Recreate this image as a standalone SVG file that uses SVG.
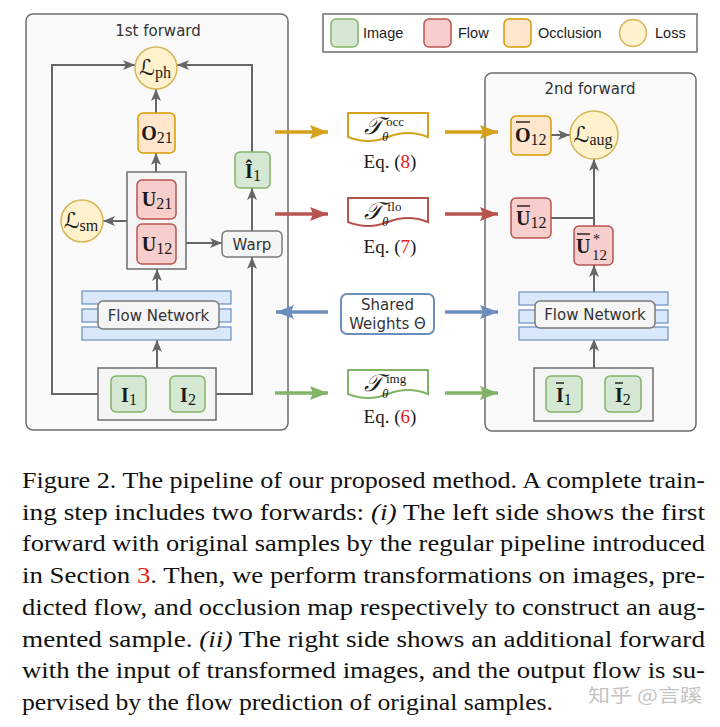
<svg xmlns="http://www.w3.org/2000/svg" width="720" height="727" viewBox="0 0 720 727">
<style>
.panel{fill:#fafafa;stroke:#6e6e6e;stroke-width:1.5}
.grp{fill:#f5f5f5;stroke:#6e6e6e;stroke-width:1.5}
.img{fill:#d5e8d4;stroke:#82b366;stroke-width:1.5}
.flo{fill:#f8cecc;stroke:#b85450;stroke-width:1.5}
.occ{fill:#ffe6cc;stroke:#d79b00;stroke-width:1.5}
.loss{fill:#fff2cc;stroke:#d6b656;stroke-width:1.5}
.bar{fill:#dae8fc;stroke:#6c8ebf;stroke-width:1.2}
.lbl{fill:#f5f5f5;stroke:#7a7a7a;stroke-width:1.5}
.sans{font-family:"DejaVu Sans",Verdana,sans-serif;font-size:15px;fill:#333}
.leg{font-family:"Liberation Sans",Arial,sans-serif;font-size:14.5px;fill:#222}
.m{font-family:"Liberation Serif","Times New Roman",serif;fill:#1a1a1a}
.mb{font-family:"Liberation Serif","Times New Roman",serif;font-weight:bold;font-size:20px;fill:#1a1a1a}
.sub{font-weight:normal;font-size:16px}
.cal{font-family:"DejaVu Serif","DejaVu Sans",serif;font-size:22px;fill:#1a1a1a}
.cap{font-family:"Liberation Serif","Times New Roman",serif;font-size:24px;fill:#111}
.red{fill:#e0201b}
.c{fill:none;stroke:#666;stroke-width:2}
.ov{stroke:#1a1a1a;stroke-width:1.4}
</style>
<defs>
<marker id="ag" viewBox="0 0 12 12" refX="12" refY="6" markerWidth="12" markerHeight="12" orient="auto" markerUnits="userSpaceOnUse"><path d="M0,1 L12,6 L0,11 L3,6 Z" fill="#666"/></marker>
<marker id="ay" viewBox="0 0 18 14" refX="18" refY="7" markerWidth="18" markerHeight="14" orient="auto" markerUnits="userSpaceOnUse"><path d="M0,0 L18,7 L0,14 L3,7 Z" fill="#d6a21e"/></marker>
<marker id="ar" viewBox="0 0 18 14" refX="18" refY="7" markerWidth="18" markerHeight="14" orient="auto" markerUnits="userSpaceOnUse"><path d="M0,0 L18,7 L0,14 L3,7 Z" fill="#b85450"/></marker>
<marker id="ab" viewBox="0 0 18 14" refX="18" refY="7" markerWidth="18" markerHeight="14" orient="auto" markerUnits="userSpaceOnUse"><path d="M0,0 L18,7 L0,14 L3,7 Z" fill="#6c8ebf"/></marker>
<marker id="agr" viewBox="0 0 18 14" refX="18" refY="7" markerWidth="18" markerHeight="14" orient="auto" markerUnits="userSpaceOnUse"><path d="M0,0 L18,7 L0,14 L3,7 Z" fill="#82b366"/></marker>
</defs>
<rect width="720" height="727" fill="#fff"/>

<!-- panels -->
<g id="panel-1st">
<rect class="panel" x="26" y="14" width="262" height="416" rx="7"/>
<text class="sans" x="158" y="36" text-anchor="middle" fill="#222">1st forward</text>
</g>
<g id="panel-2nd">
<rect class="panel" x="485" y="73" width="211" height="358" rx="7"/>
<text class="sans" x="590" y="94" text-anchor="middle" fill="#222">2nd forward</text>
</g>

<!-- legend -->
<g id="legend">
<rect x="323" y="14" width="374" height="38" fill="#fff" stroke="#6e6e6e" stroke-width="1.5"/>
<rect class="img" x="331" y="19" width="27" height="28" rx="5"/>
<text class="leg" x="363" y="38">Image</text>
<rect class="flo" x="424" y="19" width="27" height="28" rx="5"/>
<text class="leg" x="458" y="38">Flow</text>
<rect class="occ" x="504" y="19" width="27" height="28" rx="5"/>
<text class="leg" x="538" y="38">Occlusion</text>
<circle class="loss" cx="633" cy="33" r="13.5"/>
<text class="leg" x="655" y="38">Loss</text>
</g>

<!-- connectors -->
<g id="connectors">
<path class="c" d="M111,394 H52 V65 H135" marker-end="url(#ag)"/>
<path class="c" d="M252,152 V65 H177" marker-end="url(#ag)"/>
<path class="c" d="M156,113 V89" marker-end="url(#ag)"/>
<path class="c" d="M156,172 V153" marker-end="url(#ag)"/>
<path class="c" d="M127,221 H103" marker-end="url(#ag)"/>
<path class="c" d="M176,243 H222" marker-end="url(#ag)"/>
<path class="c" d="M252,231 V188" marker-end="url(#ag)"/>
<path class="c" d="M205,394 H252 V257" marker-end="url(#ag)"/>
<path class="c" d="M157,291 V269" marker-end="url(#ag)"/>
<path class="c" d="M157,368 V340" marker-end="url(#ag)"/>
<path class="c" d="M551,135 H570" marker-end="url(#ag)"/>
<path class="c" d="M551,218 H594"/>
<path class="c" d="M594,226 V159" marker-end="url(#ag)"/>
<path class="c" d="M594,292 V265" marker-end="url(#ag)"/>
<path class="c" d="M594,368 V339" marker-end="url(#ag)"/>
<path d="M275,132 H328" stroke="#d6a21e" stroke-width="3.5" fill="none" marker-end="url(#ay)"/>
<path d="M445,132 H498" stroke="#d6a21e" stroke-width="3.5" fill="none" marker-end="url(#ay)"/>
<path d="M275,214 H328" stroke="#b85450" stroke-width="3.5" fill="none" marker-end="url(#ar)"/>
<path d="M445,214 H498" stroke="#b85450" stroke-width="3.5" fill="none" marker-end="url(#ar)"/>
<path d="M328,312 H276" stroke="#6c8ebf" stroke-width="3.5" fill="none" marker-end="url(#ab)"/>
<path d="M445,312 H498" stroke="#6c8ebf" stroke-width="3.5" fill="none" marker-end="url(#ab)"/>
<path d="M275,393 H328" stroke="#82b366" stroke-width="3.5" fill="none" marker-end="url(#agr)"/>
<path d="M445,393 H498" stroke="#82b366" stroke-width="3.5" fill="none" marker-end="url(#agr)"/>
</g>

<!-- 1st forward nodes -->
<g id="L-ph">
<circle class="loss" cx="156" cy="68" r="21"/>
<text x="155" y="75" text-anchor="middle"><tspan class="cal">ℒ</tspan><tspan class="m" font-size="16" dy="3">ph</tspan></text>
</g>
<g id="O21">
<rect class="occ" x="138" y="113" width="37" height="40" rx="5"/>
<text class="mb" x="157" y="140" text-anchor="middle">O<tspan class="sub" dy="3">21</tspan></text>
</g>
<g id="U-group">
<rect class="grp" x="127" y="172" width="59" height="97"/>
</g>
<g id="U21">
<rect class="flo" x="137" y="180" width="39" height="39" rx="5"/>
<text class="mb" x="157" y="206" text-anchor="middle">U<tspan class="sub" dy="3">21</tspan></text>
</g>
<g id="U12">
<rect class="flo" x="137" y="224" width="39" height="40" rx="5"/>
<text class="mb" x="157" y="251" text-anchor="middle">U<tspan class="sub" dy="3">12</tspan></text>
</g>
<g id="L-sm">
<circle class="loss" cx="82" cy="221" r="21"/>
<text x="81" y="228" text-anchor="middle"><tspan class="cal">ℒ</tspan><tspan class="m" font-size="16" dy="3">sm</tspan></text>
</g>
<g id="warp">
<rect class="lbl" x="222" y="231" width="60" height="26" rx="5"/>
<text class="sans" x="252" y="249.5" text-anchor="middle">Warp</text>
</g>
<g id="I1-hat">
<rect class="img" x="235" y="152" width="35" height="36" rx="5"/>
<text class="mb" x="253" y="178" text-anchor="middle">Î<tspan class="sub" dy="3">1</tspan></text>
</g>
<g id="flow-net-1">
<rect class="bar" x="82" y="291" width="149" height="13"/>
<rect class="bar" x="82" y="309" width="149" height="13"/>
<rect class="bar" x="82" y="327" width="149" height="13"/>
<rect class="lbl" x="98" y="301" width="121" height="28" rx="5"/>
<text class="sans" x="158.5" y="320.5" text-anchor="middle">Flow Network</text>
</g>
<g id="I-group-1">
<rect class="grp" x="98" y="368" width="118" height="52"/>
</g>
<g id="I1">
<rect class="img" x="111" y="376" width="35" height="36" rx="5"/>
<text class="mb" x="129" y="402" text-anchor="middle">I<tspan class="sub" dy="3">1</tspan></text>
</g>
<g id="I2">
<rect class="img" x="170" y="376" width="35" height="36" rx="5"/>
<text class="mb" x="188" y="402" text-anchor="middle">I<tspan class="sub" dy="3">2</tspan></text>
</g>

<!-- middle transforms -->
<g id="T-occ">
<path d="M348,113 H428 V137 Q408,129 388,137 Q368,145 348,137 Z" fill="#fff" stroke="#d6a21e" stroke-width="2"/>
<text class="m" x="364" y="134" font-size="24" font-style="italic">𝒯</text>
<text class="m" x="382" y="141" font-size="13" font-style="italic">θ</text>
<text class="m" x="386" y="126" font-size="13">occ</text>
<text class="m" x="390" y="168" font-size="19" text-anchor="middle">Eq. (<tspan class="red">8</tspan>)</text>
</g>
<g id="T-flo">
<path d="M348,198 H428 V222 Q408,214 388,222 Q368,230 348,222 Z" fill="#fff" stroke="#b85450" stroke-width="2"/>
<text class="m" x="364" y="219" font-size="24" font-style="italic">𝒯</text>
<text class="m" x="382" y="226" font-size="13" font-style="italic">θ</text>
<text class="m" x="387" y="211" font-size="13">flo</text>
<text class="m" x="390" y="253" font-size="19" text-anchor="middle">Eq. (<tspan class="red">7</tspan>)</text>
</g>
<g id="shared-weights">
<rect x="341" y="294" width="93" height="40" rx="6" fill="#fff" stroke="#6c8ebf" stroke-width="2"/>
<text class="sans" x="387.5" y="310" text-anchor="middle">Shared</text>
<text class="sans" x="387.5" y="329" text-anchor="middle">Weights Θ</text>
</g>
<g id="T-img">
<path d="M348,370 H428 V394 Q408,386 388,394 Q368,402 348,394 Z" fill="#fff" stroke="#82b366" stroke-width="2"/>
<text class="m" x="364" y="391" font-size="24" font-style="italic">𝒯</text>
<text class="m" x="382" y="398" font-size="13" font-style="italic">θ</text>
<text class="m" x="386" y="383" font-size="13">img</text>
<text class="m" x="390" y="423" font-size="19" text-anchor="middle">Eq. (<tspan class="red">6</tspan>)</text>
</g>

<!-- 2nd forward nodes -->
<g id="O12-bar">
<rect class="occ" x="511" y="116" width="40" height="39" rx="5"/>
<text class="mb" x="515" y="142">O<tspan class="sub" dy="3">12</tspan></text>
<line class="ov" x1="516" y1="122" x2="530" y2="122"/>
</g>
<g id="L-aug">
<circle class="loss" cx="594" cy="135" r="24"/>
<text x="593" y="142" text-anchor="middle"><tspan class="cal">ℒ</tspan><tspan class="m" font-size="16" dy="3">aug</tspan></text>
</g>
<g id="U12-bar">
<rect class="flo" x="511" y="198" width="40" height="40" rx="5"/>
<text class="mb" x="516" y="225">U<tspan class="sub" dy="3">12</tspan></text>
<line class="ov" x1="517" y1="206" x2="530" y2="206"/>
</g>
<g id="U12-star">
<rect class="flo" x="574" y="226" width="39" height="39" rx="5"/>
<text class="mb" x="576" y="253">U</text>
<line class="ov" x1="577" y1="234" x2="590" y2="234"/>
<text class="m" x="593" y="244" font-size="14">*</text>
<text class="m" x="592" y="260" font-size="15">12</text>
</g>
<g id="flow-net-2">
<rect class="bar" x="519" y="292" width="149" height="13"/>
<rect class="bar" x="519" y="310" width="149" height="13"/>
<rect class="bar" x="519" y="327" width="149" height="13"/>
<rect class="lbl" x="535" y="301" width="120" height="27" rx="5"/>
<text class="sans" x="595" y="320" text-anchor="middle">Flow Network</text>
</g>
<g id="I-group-2">
<rect class="grp" x="534" y="368" width="119" height="53"/>
</g>
<g id="I1-bar">
<rect class="img" x="546" y="376" width="36" height="36" rx="5"/>
<text class="mb" x="556" y="402">I<tspan class="sub" dy="3">1</tspan></text>
<line class="ov" x1="556" y1="383" x2="564" y2="383"/>
</g>
<g id="I2-bar">
<rect class="img" x="605" y="376" width="36" height="36" rx="5"/>
<text class="mb" x="615" y="402">I<tspan class="sub" dy="3">2</tspan></text>
<line class="ov" x1="615" y1="383" x2="623" y2="383"/>
</g>

<!-- caption -->
<g id="caption">
<text class="cap" x="22" y="488" textLength="683" lengthAdjust="spacingAndGlyphs">Figure 2. The pipeline of our proposed method. A complete train-</text>
<text class="cap" x="22" y="520" textLength="683" lengthAdjust="spacingAndGlyphs">ing step includes two forwards: <tspan font-style="italic">(i)</tspan> The left side shows the first</text>
<text class="cap" x="22" y="551" textLength="683" lengthAdjust="spacingAndGlyphs">forward with original samples by the regular pipeline introduced</text>
<text class="cap" x="22" y="583" textLength="683" lengthAdjust="spacingAndGlyphs">in Section <tspan class="red">3</tspan>.  Then, we perform transformations on images, pre-</text>
<text class="cap" x="22" y="615" textLength="683" lengthAdjust="spacingAndGlyphs">dicted flow, and occlusion map respectively to construct an aug-</text>
<text class="cap" x="22" y="647" textLength="683" lengthAdjust="spacingAndGlyphs">mented sample.  <tspan font-style="italic">(ii)</tspan> The right side shows an additional forward</text>
<text class="cap" x="22" y="678" textLength="683" lengthAdjust="spacingAndGlyphs">with the input of transformed images, and the output flow is su-</text>
<text class="cap" x="22" y="710" textLength="531" lengthAdjust="spacingAndGlyphs">pervised by the flow prediction of original samples.</text>
<text x="588" y="702" font-family="'Noto Sans CJK SC',sans-serif" font-size="18" fill="#c4c4c4" textLength="114" lengthAdjust="spacingAndGlyphs">知乎 @言蹊</text>
</g>
</svg>
